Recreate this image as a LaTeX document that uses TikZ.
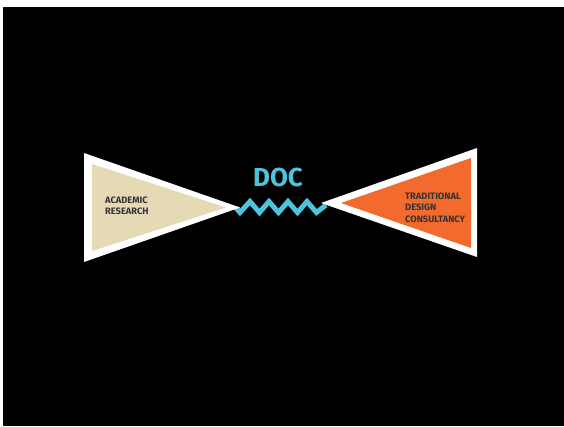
\documentclass[tikz,border=0pt]{standalone}
\usepackage{fontspec}
\setmainfont{Fira Sans}
\definecolor{beige}{HTML}{E6D9B6}
\definecolor{orangefill}{HTML}{F26A2E}
\definecolor{docblue}{HTML}{4DC3DC}
\definecolor{labelgrey}{HTML}{333333}
\begin{document}
\begin{tikzpicture}[x=1pt,y=-1pt,
  outertri/.style={fill=white},
  labeltext/.style={inner sep=0pt, anchor=north west, align=left, text=labelgrey,
    font=\fontsize{9.3}{11.6}\selectfont\bfseries},
  zig/.style={draw=docblue, line width=5pt, miter limit=10, line join=miter}]
\useasboundingbox (0,0) rectangle (564,426);
\fill[white] (0,0) rectangle (564,426);
\fill[black] (3,7) rectangle (564,426);
% zigzag connector
\coordinate (zl) at (236,208);
\coordinate (zr) at (326,205);
\draw[zig] (zl) -- (240,212.5) -- (250,201.5) -- (259.5,212.5) -- (269,201.5) -- (278.5,212.5)
  -- (288,201.5) -- (297.5,212.5) -- (307,201.5) -- (316.5,212.5) -- (zr);
% left triangle
\fill[outertri] (84,153) -- (84,262) -- (240,207.5) -- cycle;
\fill[beige] (92,164) -- (92,251) -- (226,207.5) -- cycle;
% right triangle
\fill[outertri] (477,148) -- (477,257) -- (321,203) -- cycle;
\fill[orangefill] (471,158) -- (471,248) -- (341,203) -- cycle;
% labels
\node[labeltext] (acad) at (105,196.5) {ACADEMIC\\RESEARCH};
\node[labeltext] (trad) at (405,192.5) {TRADITIONAL\\DESIGN\\CONSULTANCY};
\node[inner sep=0pt, anchor=north, text=docblue, font=\fontsize{26}{26}\selectfont\bfseries] (doc) at (278,168) {DOC};
\end{tikzpicture}
\end{document}
